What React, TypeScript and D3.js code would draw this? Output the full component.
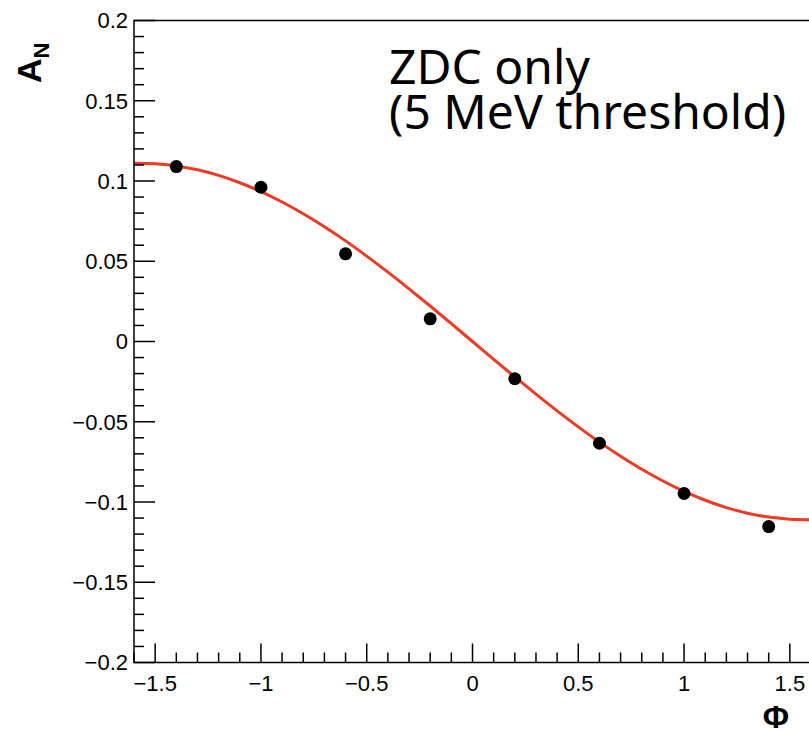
import * as d3 from "d3";

// measured points (phi, A_N)
const phiPoints = [-1.4, -1.0, -0.6, -0.2, 0.2, 0.6, 1.0, 1.4];
const anPoints = [0.109, 0.0961, 0.0546, 0.0141, -0.0232, -0.0634, -0.0947, -0.1153];

// fit curve
const fitPhi = [
  -1.6, -1.5, -1.4, -1.3, -1.2, -1.1, -1.0, -0.9, -0.8, -0.7, -0.6, -0.5, -0.4, -0.3, -0.2, -0.1,
  0, 0.1, 0.2, 0.3, 0.4, 0.5, 0.6, 0.7, 0.8, 0.9, 1.0, 1.1, 1.2, 1.3, 1.4, 1.5, 1.6,
];
const fitAn = [
  0.111, 0.1107, 0.1094, 0.107, 0.1035, 0.0989, 0.0934, 0.0869, 0.0796, 0.0715, 0.0627, 0.0532,
  0.0432, 0.0328, 0.0221, 0.0111, 0, -0.0111, -0.0221, -0.0328, -0.0432, -0.0532, -0.0627,
  -0.0715, -0.0796, -0.0869, -0.0934, -0.0989, -0.1035, -0.107, -0.1094, -0.1107, -0.111,
];

const xTicks = [-1.5, -1, -0.5, 0, 0.5, 1, 1.5];
const yTicks = [-0.2, -0.15, -0.1, -0.05, 0, 0.05, 0.1, 0.15, 0.2];
const labelLines = ["ZDC only", "(5 MeV threshold)"];

const W = 809;
const H = 734;
const FRAME = { left: 134, right: 811, top: 20.5, bottom: 662.5 };

const fmt = (v: number) => {
  const s = d3.format("~g")(Math.round(v * 1000) / 1000);
  return s.replace("-", "\u2212");
};

export default function App() {
  const x = d3.scaleLinear().domain([-1.6, 1.6]).range([FRAME.left, FRAME.right]);
  const y = d3.scaleLinear().domain([-0.2, 0.2]).range([FRAME.bottom, FRAME.top]);

  const xMinor = d3.range(-16, 17).map((i) => i / 10);
  const yMinor = d3.range(-20, 21).map((i) => i / 100);

  const line = d3
    .line<number>()
    .x((_, i) => x(fitPhi[i]))
    .y((d) => y(d))
    .curve(d3.curveMonotoneX);

  const axisFont = "'Liberation Sans', Arial, Helvetica, sans-serif";

  return (
    <svg
      width={W}
      height={H}
      style={{ position: "absolute", left: 0, top: 0, background: "#fff" }}
    >
      <rect x={0} y={0} width={W} height={H} fill="#fff" />

      {/* fit curve */}
      <path d={line(fitAn) ?? ""} fill="none" stroke="#ee3b24" strokeWidth={3} />

      {/* data points */}
      {phiPoints.map((p, i) => (
        <circle key={i} cx={x(p)} cy={y(anPoints[i])} r={6.5} fill="#000" />
      ))}

      {/* frame */}
      <rect
        x={FRAME.left}
        y={FRAME.top}
        width={FRAME.right - FRAME.left}
        height={FRAME.bottom - FRAME.top}
        fill="none"
        stroke="#000"
        strokeWidth={1.5}
      />

      {/* x ticks */}
      {xMinor.map((v, i) => {
        const major = Math.abs(v * 2 - Math.round(v * 2)) < 1e-6;
        return (
          <line
            key={i}
            x1={x(v)}
            x2={x(v)}
            y1={FRAME.bottom}
            y2={FRAME.bottom - (major ? 19 : 10)}
            stroke="#000"
            strokeWidth={1.5}
          />
        );
      })}
      {xTicks.map((v) => (
        <text
          key={v}
          x={x(v)}
          y={691}
          textAnchor="middle"
          fontFamily={axisFont}
          fontSize={22}
          fill="#000"
        >
          {fmt(v)}
        </text>
      ))}

      {/* y ticks */}
      {yMinor.map((v, i) => {
        const major = Math.abs(v * 20 - Math.round(v * 20)) < 1e-6;
        return (
          <line
            key={i}
            x1={FRAME.left}
            x2={FRAME.left + (major ? 21 : 10)}
            y1={y(v)}
            y2={y(v)}
            stroke="#000"
            strokeWidth={1.5}
          />
        );
      })}
      {yTicks.map((v) => (
        <text
          key={v}
          x={128}
          y={y(v)}
          dy="0.36em"
          textAnchor="end"
          fontFamily={axisFont}
          fontSize={22}
          fill="#000"
        >
          {fmt(v)}
        </text>
      ))}

      {/* axis titles */}
      <text
        transform="translate(41, 83) rotate(-90)"
        fontFamily={axisFont}
        fontWeight="bold"
        fontSize={34}
        fill="#000"
      >
        A
        <tspan fontSize={22} dy={8}>
          N
        </tspan>
      </text>
      <text
        x={789}
        y={728}
        textAnchor="end"
        fontFamily={axisFont}
        fontWeight="bold"
        fontSize={32}
        fill="#000"
      >
        Φ
      </text>

      {/* annotation */}
      {labelLines.map((t, i) => (
        <text
          key={t}
          x={389}
          y={84 + i * 45}
          fontFamily="'Noto Sans', sans-serif"
          fontSize={48}
          fill="#000"
        >
          {t}
        </text>
      ))}
    </svg>
  );
}
